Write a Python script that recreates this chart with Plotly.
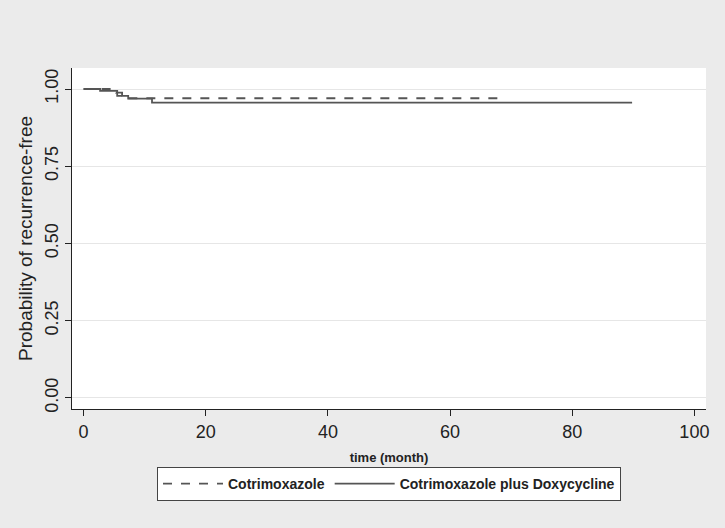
import plotly.graph_objects as go

# Kaplan-Meier step data
time_cotri = [0, 5.3, 6.3, 7.2, 68.7]
surv_cotri = [1.0, 0.988, 0.979, 0.970, 0.970]

time_doxy = [0, 2.7, 5.5, 7.3, 11.2, 89.8]
surv_doxy = [1.0, 0.994, 0.978, 0.969, 0.956, 0.956]

line_color = "#555555"
bg = "#ebebeb"

fig = go.Figure()
fig.add_trace(go.Scatter(x=time_cotri, y=surv_cotri, mode="lines", line_shape="hv",
                         name="Cotrimoxazole",
                         line=dict(color=line_color, width=1.8, dash="dash")))
fig.add_trace(go.Scatter(x=time_doxy, y=surv_doxy, mode="lines", line_shape="hv",
                         name="Cotrimoxazole plus Doxycycline",
                         line=dict(color=line_color, width=1.8)))

fig.update_layout(
    width=725, height=528,
    margin=dict(l=72, r=19, t=68, b=119),
    paper_bgcolor=bg, plot_bgcolor="white",
    font=dict(family="Liberation Sans, Arial", color="#222222"),
    showlegend=True,
    legend=dict(orientation="h", x=0.5, xanchor="center", y=-0.17, yanchor="top",
                bgcolor="white", bordercolor="#444444", borderwidth=1,
                font=dict(size=14, family="Liberation Sans, Arial", weight="bold"),
                itemwidth=60),
)
fig.update_xaxes(range=[-1.9, 101.9], tickvals=[0, 20, 40, 60, 80, 100],
                 showgrid=False, zeroline=False, showline=True, linecolor="#222222",
                 linewidth=1.3, ticks="outside", ticklen=6, tickcolor="#222222",
                 tickfont=dict(size=18),
                 title=dict(text="time (month)", font=dict(size=13, weight="bold"), standoff=12))
fig.update_yaxes(range=[-0.036, 1.068], tickvals=[0, 0.25, 0.5, 0.75, 1.0],
                 ticktext=["0.00", "0.25", "0.50", "0.75", "1.00"], tickangle=-90,
                 showgrid=True, gridcolor="#e6e6e6", gridwidth=1, zeroline=False,
                 showline=True, linecolor="#222222", linewidth=1.3,
                 ticks="outside", ticklen=6, tickcolor="#222222",
                 tickfont=dict(size=18),
                 title=dict(text="Probability of recurrence-free", font=dict(size=19), standoff=4))

fig.write_html("out.html", config={"displayModeBar": False},
               post_script="document.body.style.margin='0';document.body.style.background='#ebebeb';")
